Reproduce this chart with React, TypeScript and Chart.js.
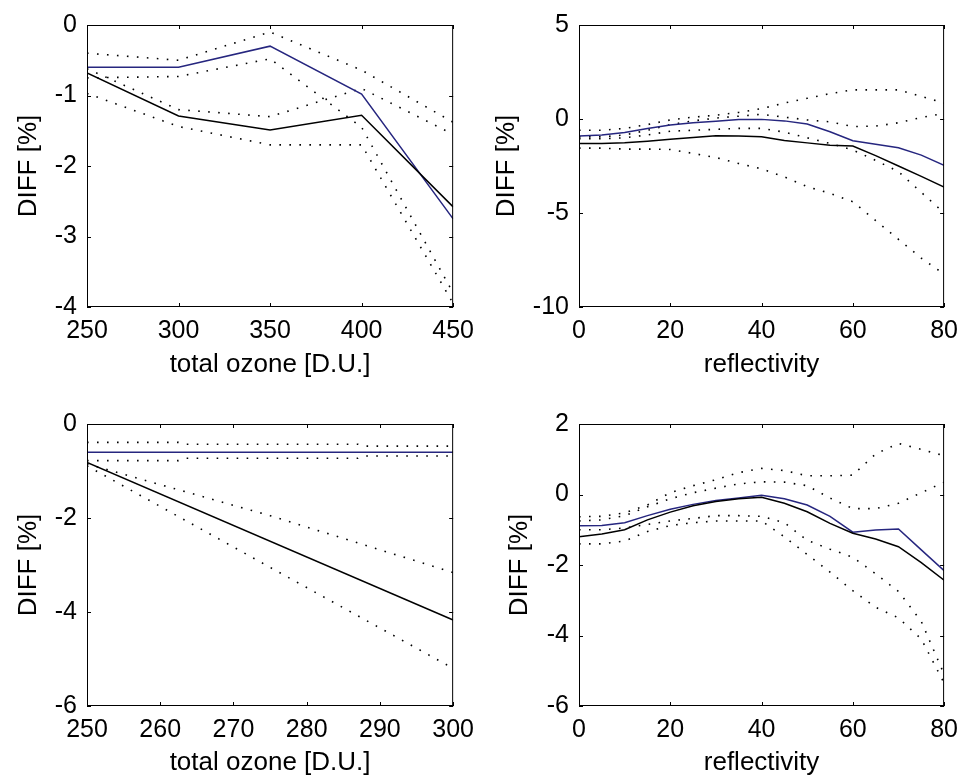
import React, { useEffect, useRef } from "react";
import { Chart, registerables } from "chart.js";

Chart.register(...registerables);

// ---------- Panel 1 (top-left): total ozone 250..450 ----------
const p1X = [250, 300, 350, 400, 450];
const p1Blue = [-0.6, -0.6, -0.3, -0.98, -2.75];
const p1Black = [-0.68, -1.29, -1.49, -1.28, -2.58];
const p1BlueUpper = [-0.4, -0.5, -0.1, -0.64, -1.38];
const p1BlueLower = [-0.75, -0.73, -0.48, -1.45, -3.8];
const p1BlackUpper = [-0.62, -1.2, -1.3, -0.9, -1.55];
const p1BlackLower = [-0.97, -1.44, -1.7, -1.7, -3.95];
const p1XTicks = [250, 300, 350, 400, 450];
const p1YTicks = [-4, -3, -2, -1, 0];

// ---------- Panel 2 (top-right): reflectivity 0..80 ----------
const p2X = [0, 5, 10, 15, 20, 25, 30, 35, 40, 45, 50, 55, 60, 65, 70, 75, 80];
const p2Blue = [-0.91, -0.85, -0.72, -0.5, -0.32, -0.2, -0.12, -0.03, -0.02, -0.1, -0.27, -0.68, -1.16, -1.34, -1.53, -1.92, -2.46];
const p2Black = [-1.3, -1.3, -1.26, -1.18, -1.08, -0.98, -0.89, -0.9, -0.95, -1.14, -1.27, -1.39, -1.44, -1.95, -2.5, -3.05, -3.62];
const p2BlueUpper = [-0.6, -0.6, -0.5, -0.3, -0.05, 0.1, 0.2, 0.35, 0.55, 0.85, 1.1, 1.35, 1.55, 1.55, 1.55, 1.2, 0.85];
const p2BlueLower = [-1.05, -1.05, -1.0, -0.85, -0.65, -0.6, -0.55, -0.5, -0.5, -0.7, -1.0, -1.3, -1.65, -2.2, -2.8, -3.9, -5.0];
const p2BlackUpper = [-0.95, -0.95, -0.85, -0.6, -0.3, -0.1, 0.05, 0.15, 0.25, 0.1, -0.05, -0.15, -0.4, -0.38, -0.2, 0.08, 0.3];
const p2BlackLower = [-1.55, -1.55, -1.6, -1.6, -1.62, -1.83, -2.05, -2.37, -2.65, -3.08, -3.6, -3.95, -4.4, -5.4, -6.4, -7.4, -8.25];
const p2XTicks = [0, 20, 40, 60, 80];
const p2YTicks = [-10, -5, 0, 5];

// ---------- Panel 3 (bottom-left): total ozone 250..300 ----------
const p3X = [250, 300];
const p3Blue = [-0.6, -0.6];
const p3Black = [-0.82, -4.17];
const p3StepX = [250, 262.5, 263.5, 287, 288, 300];
const p3BlueUpper = [-0.39, -0.39, -0.43, -0.43, -0.47, -0.47];
const p3BlueLower = [-0.78, -0.78, -0.73, -0.73, -0.68, -0.68];
const p3MidX = [250, 275, 300];
const p3BlackUpper = [-0.85, -1.95, -3.16];
const p3BlackLower = [-0.89, -3.05, -5.2];
const p3XTicks = [250, 260, 270, 280, 290, 300];
const p3YTicks = [-6, -4, -2, 0];

// ---------- Panel 4 (bottom-right): reflectivity 0..80 ----------
const p4X = [0, 5, 10, 15, 20, 25, 30, 35, 40, 45, 50, 55, 60, 65, 70, 75, 80];
const p4Blue = [-0.89, -0.88, -0.8, -0.6, -0.42, -0.28, -0.17, -0.1, -0.02, -0.12, -0.3, -0.62, -1.07, -1.01, -0.98, -1.57, -2.16];
const p4Black = [-1.2, -1.12, -1.0, -0.72, -0.5, -0.32, -0.2, -0.12, -0.08, -0.25, -0.49, -0.82, -1.1, -1.26, -1.48, -1.93, -2.43];
const p4BlueUpper = [-0.63, -0.62, -0.52, -0.3, 0.05, 0.25, 0.42, 0.62, 0.74, 0.68, 0.53, 0.53, 0.55, 1.15, 1.45, 1.28, 1.1];
const p4BlackUpper = [-0.75, -0.72, -0.6, -0.35, -0.12, 0.05, 0.18, 0.3, 0.36, 0.35, 0.25, -0.1, -0.4, -0.4, -0.25, 0.05, 0.35];
const p4BlueLower = [-1.0, -1.0, -0.95, -0.85, -0.75, -0.68, -0.6, -0.6, -0.62, -0.8, -1.3, -1.55, -1.78, -2.25, -2.75, -3.6, -5.1];
const p4BlackLower = [-1.4, -1.4, -1.32, -1.05, -0.88, -0.8, -0.75, -0.75, -0.75, -1.2, -1.7, -2.2, -2.73, -3.2, -3.5, -4.1, -5.35];
const p4XTicks = [0, 20, 40, 60, 80];
const p4YTicks = [-6, -4, -2, 0, 2];

const yTitle = "DIFF [%]";
const ozoneTitle = "total ozone [D.U.]";
const reflTitle = "reflectivity";

const BLUE = "#26267f";
const BLACK = "#000000";
const FONT = "'Liberation Sans', Arial, Helvetica, sans-serif";

type Line = { xs: number[]; ys: number[]; kind: "blue" | "black" | "dot" };

type PanelCfg = {
  cx: number; cy: number; cw: number; ch: number;
  plot: { l: number; t: number; r: number; b: number };
  yTitleX: number; xTitleY: number;
  xTicks: number[]; yTicks: number[];
  xTitle: string;
  lines: Line[];
};

const framePlugin = {
  id: "matlabFrame",
  afterDraw(chart: any) {
    const { ctx, chartArea: a, scales } = chart;
    const L = a.left, R = a.right, T = a.top, B = a.bottom;
    const tl = 4;
    ctx.save();
    ctx.strokeStyle = "#000";
    ctx.lineWidth = 1;
    ctx.strokeRect(L + 0.5, T + 0.5, R - L - 1, B - T - 1);
    ctx.beginPath();
    const xs = scales.x.ticks.map((t: any) => t.value);
    xs.forEach((v: number) => {
      const px = Math.round(scales.x.getPixelForValue(v)) + 0.5;
      ctx.moveTo(px, B); ctx.lineTo(px, B - tl);
      ctx.moveTo(px, T); ctx.lineTo(px, T + tl);
    });
    const ys = scales.y.ticks.map((t: any) => t.value);
    ys.forEach((v: number) => {
      const py = Math.round(scales.y.getPixelForValue(v)) + 0.5;
      ctx.moveTo(L, py); ctx.lineTo(L + tl, py);
      ctx.moveTo(R, py); ctx.lineTo(R - tl, py);
    });
    ctx.stroke();
    ctx.restore();
  },
};

function Panel({ cfg }: { cfg: PanelCfg }) {
  const ref = useRef<HTMLCanvasElement>(null);
  useEffect(() => {
    const yAxisW = cfg.plot.l - cfg.cx;
    const xAxisH = cfg.cy + cfg.ch - cfg.plot.b;
    const padTop = cfg.plot.t - cfg.cy;
    const padRight = cfg.cx + cfg.cw - cfg.plot.r;
    const titleSize = 26;
    const titleLH = titleSize * 1.2;
    const yTitlePad = Math.max(0, cfg.yTitleX - cfg.cx - titleLH / 2);
    const xTitlePad = Math.max(0, cfg.cy + cfg.ch - titleLH / 2 - cfg.xTitleY);
    const datasets = cfg.lines.map((ln) => ({
      data: ln.xs.map((x, i) => ({ x, y: ln.ys[i] })),
      borderColor: ln.kind === "blue" ? BLUE : BLACK,
      borderWidth: ln.kind === "dot" ? 1.6 : 1.5,
      borderDash: ln.kind === "dot" ? [1.6, 8.4] : [],
      pointRadius: 0,
      fill: false,
      tension: 0,
      order: ln.kind === "dot" ? 2 : 1,
    }));
    const chart = new Chart(ref.current!, {
      type: "line",
      data: { datasets },
      options: {
        animation: false,
        responsive: false,
        devicePixelRatio: 1,
        layout: { padding: { left: 0, top: padTop, right: padRight, bottom: 0 } },
        plugins: { legend: { display: false }, tooltip: { enabled: false } },
        scales: {
          x: {
            type: "linear",
            min: cfg.xTicks[0],
            max: cfg.xTicks[cfg.xTicks.length - 1],
            afterBuildTicks: (s: any) => { s.ticks = cfg.xTicks.map((v) => ({ value: v })); },
            afterFit: (s: any) => { s.height = xAxisH; },
            grid: { display: false, drawTicks: false },
            border: { display: false },
            ticks: {
              autoSkip: false, maxRotation: 0, minRotation: 0, padding: 9,
              color: "#000",
              font: { family: FONT, size: 25 },
              callback: (v: any) => String(v),
            },
            title: {
              display: true, text: cfg.xTitle, color: "#000",
              font: { family: FONT, size: titleSize },
              padding: { top: 0, bottom: xTitlePad },
            },
          },
          y: {
            type: "linear",
            min: cfg.yTicks[0],
            max: cfg.yTicks[cfg.yTicks.length - 1],
            afterBuildTicks: (s: any) => { s.ticks = cfg.yTicks.map((v) => ({ value: v })); },
            afterFit: (s: any) => { s.width = yAxisW; },
            grid: { display: false, drawTicks: false },
            border: { display: false },
            ticks: {
              autoSkip: false, padding: 10, color: "#000",
              font: { family: FONT, size: 25 },
              callback: (v: any) => String(v),
            },
            title: {
              display: true, text: yTitle, color: "#000",
              font: { family: FONT, size: titleSize },
              padding: { top: yTitlePad, bottom: 0 },
            },
          },
        },
      },
      plugins: [framePlugin],
    } as any);
    return () => chart.destroy();
  }, []);
  return (
    <canvas
      ref={ref}
      width={cfg.cw}
      height={cfg.ch}
      style={{ position: "absolute", left: cfg.cx, top: cfg.cy, width: cfg.cw, height: cfg.ch }}
    />
  );
}

const panels: PanelCfg[] = [
  {
    cx: 0, cy: 0, cw: 483, ch: 389,
    plot: { l: 87, t: 25, r: 457, b: 307 },
    yTitleX: 29, xTitleY: 365,
    xTicks: p1XTicks, yTicks: p1YTicks, xTitle: ozoneTitle,
    lines: [
      { xs: p1X, ys: p1BlueUpper, kind: "dot" },
      { xs: p1X, ys: p1BlueLower, kind: "dot" },
      { xs: p1X, ys: p1BlackUpper, kind: "dot" },
      { xs: p1X, ys: p1BlackLower, kind: "dot" },
      { xs: p1X, ys: p1Black, kind: "black" },
      { xs: p1X, ys: p1Blue, kind: "blue" },
    ],
  },
  {
    cx: 483, cy: 0, cw: 484, ch: 389,
    plot: { l: 579, t: 25, r: 952, b: 307 },
    yTitleX: 507, xTitleY: 365,
    xTicks: p2XTicks, yTicks: p2YTicks, xTitle: reflTitle,
    lines: [
      { xs: p2X, ys: p2BlueUpper, kind: "dot" },
      { xs: p2X, ys: p2BlueLower, kind: "dot" },
      { xs: p2X, ys: p2BlackUpper, kind: "dot" },
      { xs: p2X, ys: p2BlackLower, kind: "dot" },
      { xs: p2X, ys: p2Black, kind: "black" },
      { xs: p2X, ys: p2Blue, kind: "blue" },
    ],
  },
  {
    cx: 0, cy: 389, cw: 483, ch: 389,
    plot: { l: 87, t: 424, r: 457, b: 706 },
    yTitleX: 29, xTitleY: 763,
    xTicks: p3XTicks, yTicks: p3YTicks, xTitle: ozoneTitle,
    lines: [
      { xs: p3StepX, ys: p3BlueUpper, kind: "dot" },
      { xs: p3StepX, ys: p3BlueLower, kind: "dot" },
      { xs: p3MidX, ys: p3BlackUpper, kind: "dot" },
      { xs: p3MidX, ys: p3BlackLower, kind: "dot" },
      { xs: p3X, ys: p3Black, kind: "black" },
      { xs: p3X, ys: p3Blue, kind: "blue" },
    ],
  },
  {
    cx: 483, cy: 389, cw: 484, ch: 389,
    plot: { l: 579, t: 424, r: 952, b: 706 },
    yTitleX: 520, xTitleY: 763,
    xTicks: p4XTicks, yTicks: p4YTicks, xTitle: reflTitle,
    lines: [
      { xs: p4X, ys: p4BlueUpper, kind: "dot" },
      { xs: p4X, ys: p4BlueLower, kind: "dot" },
      { xs: p4X, ys: p4BlackUpper, kind: "dot" },
      { xs: p4X, ys: p4BlackLower, kind: "dot" },
      { xs: p4X, ys: p4Black, kind: "black" },
      { xs: p4X, ys: p4Blue, kind: "blue" },
    ],
  },
];

export default function App() {
  return (
    <div style={{ position: "absolute", left: 0, top: 0, width: 967, height: 778, background: "#fff", overflow: "hidden" }}>
      {panels.map((p, i) => (
        <Panel key={i} cfg={p} />
      ))}
    </div>
  );
}
